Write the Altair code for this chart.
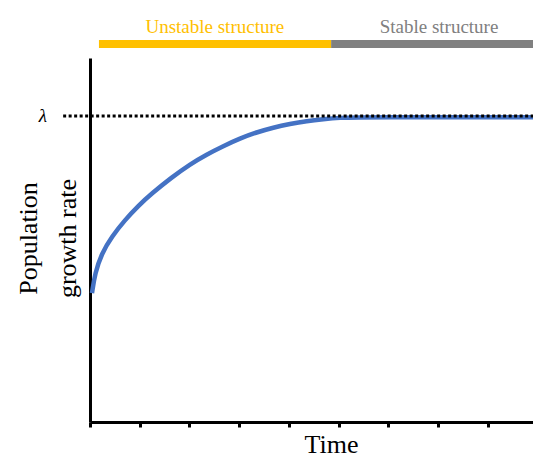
import altair as alt
import pandas as pd

# ---- data ----
time_pts = [0.04, 0.1, 0.235, 0.436, 0.704, 0.971, 1.243, 1.643, 2.011, 2.347, 2.681,
            3.017, 3.353, 3.687, 4.022, 4.358, 4.692, 5.028, 5.364, 6.0, 7.0, 8.0, 8.91]
growth_pts = [0.354, 0.409, 0.463, 0.509, 0.555, 0.594, 0.628, 0.672, 0.708, 0.735, 0.758,
              0.779, 0.796, 0.809, 0.819, 0.827, 0.832, 0.836, 0.837, 0.837, 0.837, 0.837, 0.837]

LAMBDA = 0.841
X_MAX = 8.91
x_ticks = [0, 1, 2, 3, 4, 5, 6, 7, 8]

phase_labels = ["Unstable structure", "Stable structure"]
phase_start = [0.18, 4.85]
phase_end = [4.85, 8.91]
phase_label_x = [2.51, 7.02]
phase_colors = ["#FFC000", "#808080"]
phase_bar_y = [1.0385, 1.0385]
phase_text_y = [1.0687, 1.0687]

lambda_label = ["λ"]
lambda_line_start = [-0.54]
lambda_label_x = [-0.95]

FONT = "Liberation Serif"

curve_df = pd.DataFrame({"t": time_pts, "g": growth_pts})
phase_df = pd.DataFrame({
    "label": phase_labels, "x0": phase_start, "x1": phase_end,
    "lx": phase_label_x, "by": phase_bar_y, "ty": phase_text_y,
})
lam_df = pd.DataFrame({"txt": lambda_label, "x0": lambda_line_start,
                       "x1": [X_MAX], "lx": lambda_label_x, "y": [LAMBDA]})

xs = alt.Scale(domain=[0, X_MAX], nice=False, zero=False)
ys = alt.Scale(domain=[0, 1], nice=False, zero=False)
cs = alt.Scale(domain=phase_labels, range=phase_colors)

x_axis = alt.Axis(
    values=x_ticks, labels=False, ticks=True, tickSize=5, tickWidth=3,
    tickColor="black", domainColor="black", domainWidth=3, grid=False,
    title="Time", titleFont=FONT, titleFontSize=26, titleFontWeight="normal",
    titleColor="black", titleX=241, titleY=30, titleAlign="center",
    titleBaseline="alphabetic")
y_axis = alt.Axis(
    ticks=False, labels=False, grid=False, domainColor="black", domainWidth=3,
    title=["Population", "growth rate"], titleFont=FONT, titleFontSize=26,
    titleFontWeight="normal", titleColor="black", titleX=-62, titleY=180,
    titleAlign="center", titleBaseline="middle", titleAngle=270,
    titleLineHeight=39)

curve = alt.Chart(curve_df).mark_line(
    color="#4472C4", strokeWidth=4.5, interpolate="basis", clip=False
).encode(
    x=alt.X("t:Q", scale=xs, axis=x_axis),
    y=alt.Y("g:Q", scale=ys, axis=y_axis),
)

lam_line = alt.Chart(lam_df).mark_rule(
    color="black", strokeWidth=3, strokeDash=[3, 2.5], clip=False
).encode(
    x=alt.X("x0:Q", scale=xs, axis=x_axis), x2="x1:Q",
    y=alt.Y("y:Q", scale=ys, axis=y_axis),
)

lam_text = alt.Chart(lam_df).mark_text(
    font=FONT, fontSize=19, fontStyle="italic", color="black",
    baseline="middle", align="center", clip=False
).encode(
    x=alt.X("lx:Q", scale=xs, axis=x_axis),
    y=alt.Y("y:Q", scale=ys, axis=y_axis),
    text="txt:N",
)

phase_bars = alt.Chart(phase_df).mark_rule(strokeWidth=8, strokeCap="butt", clip=False).encode(
    x=alt.X("x0:Q", scale=xs, axis=x_axis), x2="x1:Q",
    y=alt.Y("by:Q", scale=ys, axis=y_axis),
    color=alt.Color("label:N", scale=cs, legend=None),
)

phase_text = alt.Chart(phase_df).mark_text(
    font=FONT, fontSize=19, baseline="alphabetic", align="center", clip=False
).encode(
    x=alt.X("lx:Q", scale=xs, axis=x_axis),
    y=alt.Y("ty:Q", scale=ys, axis=y_axis),
    text="label:N",
    color=alt.Color("label:N", scale=cs, legend=None),
)

chart = alt.layer(curve, lam_line, lam_text, phase_bars, phase_text).properties(
    width=443, height=364,
    autosize=alt.AutoSizeParams(type="none"),
    padding={"left": 82, "top": 50, "right": 0, "bottom": 36},
    background="white",
).configure_view(stroke=None)

chart.save("out.html", embed_options={"renderer": "svg", "actions": False})
